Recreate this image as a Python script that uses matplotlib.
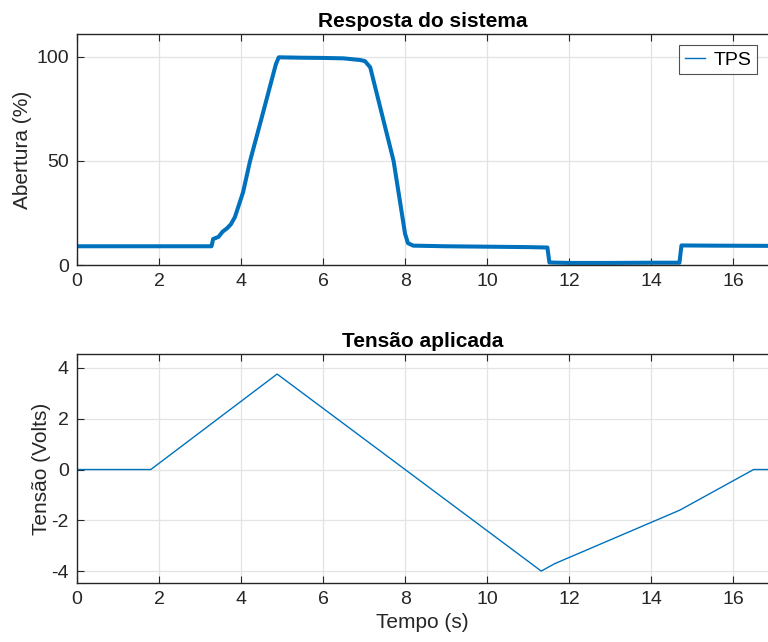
import matplotlib
matplotlib.use("Agg")
import matplotlib.pyplot as plt
from matplotlib.lines import Line2D

plt.rcParams['font.family'] = ['Liberation Sans', 'DejaVu Sans']
plt.rcParams['axes.unicode_minus'] = False

# Throttle position (TPS) response, key points of the measured trace
tps_t = [0.0, 1.0, 2.0, 3.0, 3.28, 3.32, 3.45, 3.55, 3.65, 3.75, 3.85, 3.95,
         4.05, 4.22, 4.5, 4.85, 4.92, 5.5, 6.0, 6.5, 6.9, 7.02, 7.15, 7.72,
         8.0, 8.07, 8.2, 9.0, 10.0, 11.0, 11.47, 11.52, 12.0, 13.0, 14.0,
         14.69, 14.74, 15.5, 16.85]
tps_v = [9.0, 9.0, 9.0, 9.0, 9.0, 12.5, 13.5, 16.0, 17.5, 19.5, 23.0, 29.0,
         35.0, 50.0, 70.5, 96.5, 99.8, 99.6, 99.5, 99.3, 98.5, 98.0, 95.0, 50.0,
         15.0, 10.5, 9.3, 9.0, 8.8, 8.6, 8.4, 1.2, 1.0, 1.0, 1.1,
         1.1, 9.4, 9.3, 9.2]

# Applied voltage, piecewise ramps
volt_t = [0.0, 1.8, 4.88, 11.32, 11.66, 14.7, 16.5, 16.85]
volt_v = [0.0, 0.0, 3.76, -4.0, -3.7, -1.6, 0.0, 0.0]

xticks = [0, 2, 4, 6, 8, 10, 12, 14, 16]

line_color = '#0072BD'
axis_color = '#262626'
tick_fs = 14
label_fs = 15

fig = plt.figure(figsize=(7.68, 6.42), dpi=100)
ax1 = fig.add_axes([77/768, 1 - 265/642, 691/768, 231/642])
ax2 = fig.add_axes([77/768, 1 - 583/642, 691/768, 229/642])


def style(ax):
    ax.grid(True, color='#e3e3e3', linewidth=0.9)
    ax.set_axisbelow(True)
    ax.tick_params(direction='in', top=True, right=False, length=5,
                   color=axis_color, labelcolor=axis_color,
                   labelsize=tick_fs, pad=6)
    for side in ('left', 'bottom', 'top'):
        ax.spines[side].set_color(axis_color)
        ax.spines[side].set_linewidth(1.0)
    ax.spines['right'].set_visible(False)
    ax.set_xticks(xticks)
    ax.set_xlim(0, 16.85)


ax1.plot(tps_t, tps_v, color=line_color, linewidth=2.9,
         solid_joinstyle='round', solid_capstyle='butt')
style(ax1)
ax1.set_ylim(0, 111)
ax1.set_yticks([0, 50, 100])
ax1.set_title('Resposta do sistema', fontsize=label_fs, fontweight='bold',
              color='black', pad=5)
ax1.set_ylabel('Abertura (%)', fontsize=label_fs, color=axis_color,
               labelpad=3)
leg = ax1.legend([Line2D([], [], color=line_color, linewidth=1.0)], ['TPS'],
                 loc='upper right', bbox_to_anchor=(0.984, 0.952),
                 borderaxespad=0.0, fontsize=tick_fs, frameon=True,
                 fancybox=False, edgecolor=axis_color, handlelength=1.05,
                 borderpad=0.3, handletextpad=0.4)
leg.get_frame().set_linewidth(0.8)

ax2.plot(volt_t, volt_v, color=line_color, linewidth=1.0)
style(ax2)
ax2.set_ylim(-4.47, 4.55)
ax2.set_yticks([-4, -2, 0, 2, 4])
ax2.set_title('Tensão aplicada', fontsize=label_fs, fontweight='bold',
              color='black', pad=5)
ax2.set_ylabel('Tensão (Volts)', fontsize=label_fs, color=axis_color,
               labelpad=0)
ax2.set_xlabel('Tempo (s)', fontsize=label_fs, color=axis_color, labelpad=3)

fig.savefig('out.png', dpi=100)
